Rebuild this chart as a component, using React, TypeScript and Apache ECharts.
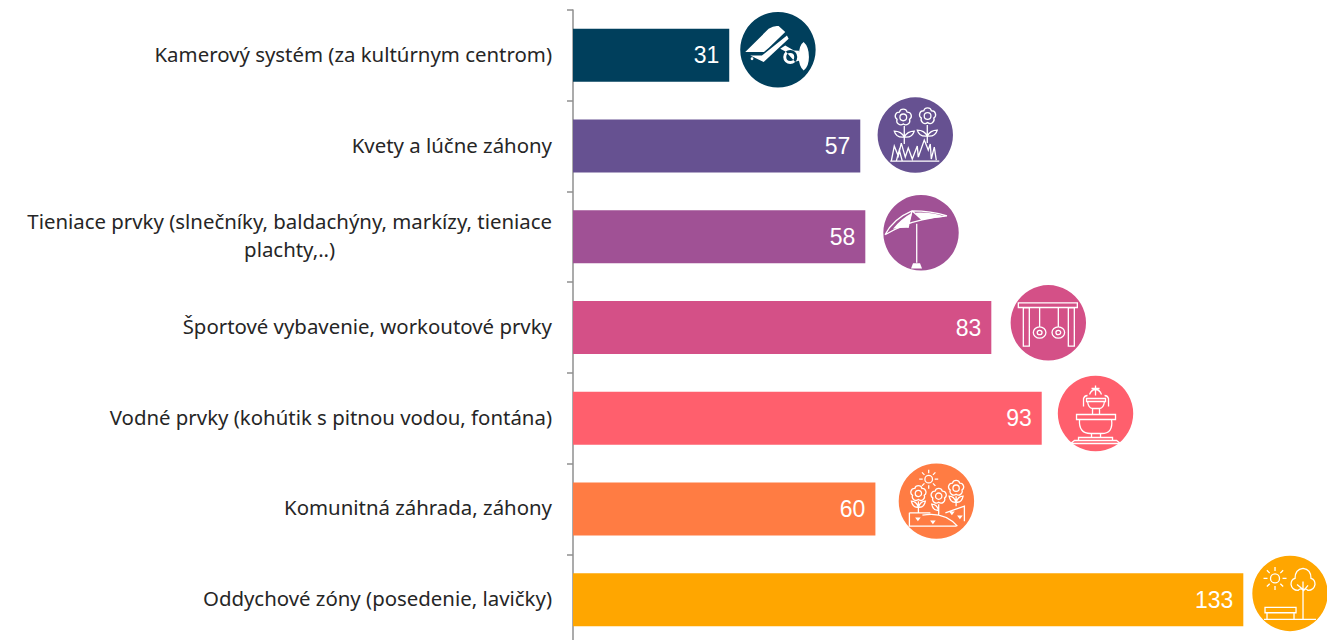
import React, { useEffect, useRef } from "react";
import * as echarts from "echarts";

const categories = [
  "Kamerový systém (za kultúrnym centrom)",
  "Kvety a lúčne záhony",
  "Tieniace prvky (slnečníky, baldachýny, markízy, tieniace\nplachty,..)",
  "Športové vybavenie, workoutové prvky",
  "Vodné prvky (kohútik s pitnou vodou, fontána)",
  "Komunitná záhrada, záhony",
  "Oddychové zóny (posedenie, lavičky)",
];
const values = [31, 57, 58, 83, 93, 60, 133];
const colors = ["#003F5C", "#665191", "#A05195", "#D45087", "#FF5F6D", "#FF7C43", "#FFA600"];
const iconDx = [48.7, 55, 55.7, 57, 53.8, 61, 46.7];
const iconDy = [-5.6, -11, -4, -4.7, -4.7, -7.8, -6.2];
const FONT = "Noto Sans";

const circ = (x: number, y: number, r: number) =>
  `M${x - r} ${y}A${r} ${r} 0 1 0 ${x + r} ${y}A${r} ${r} 0 1 0 ${x - r} ${y}Z `;
const ell = (x: number, y: number, rx: number, ry: number) =>
  `M${x - rx} ${y}A${rx} ${ry} 0 1 0 ${x + rx} ${y}A${rx} ${ry} 0 1 0 ${x - rx} ${y}Z `;
const rct = (x0: number, y0: number, x1: number, y1: number) =>
  `M${x0} ${y0}L${x1} ${y0}L${x1} ${y1}L${x0} ${y1}Z `;
const flower = (x: number, y: number, r: number) => {
  let d = circ(x, y, r * 0.42);
  const n = 5;
  const pts: number[][] = [];
  for (let i = 0; i < n; i++) {
    const a = -Math.PI / 2 + (i * 2 * Math.PI) / n;
    pts.push([x + r * Math.cos(a + Math.PI / n) * 0.82, y + r * Math.sin(a + Math.PI / n) * 0.82]);
  }
  d += `M${pts[n - 1][0]} ${pts[n - 1][1]}`;
  pts.forEach((p) => {
    d += `A${r * 0.5} ${r * 0.5} 0 0 1 ${p[0]} ${p[1]}`;
  });
  return d + "Z ";
};
const sun = (x: number, y: number, r: number, ray0: number, ray1: number) => {
  let d = circ(x, y, r);
  for (let i = 0; i < 8; i++) {
    const a = (i * Math.PI) / 4;
    d += `M${x + ray0 * Math.cos(a)} ${y + ray0 * Math.sin(a)}L${x + ray1 * Math.cos(a)} ${y + ray1 * Math.sin(a)} `;
  }
  return d;
};
const leaf = (x: number, y: number, dir: number) =>
  `M${x} ${y}Q${x + dir * 3} ${y - 6} ${x + dir * 10} ${y - 6}Q${x + dir * 8} ${y + 1} ${x} ${y} `;

const iconFill = [
  "M-32.7 2.3L-9.3 -21Q-4 -24.5 0.7 -23.7L7.3 -17.7L-9 -2L-14 2.3Z " +
    "M-27.7 5.7L-16 5.7L9 -14.3L10.7 -11L-14.3 12.3Z " +
    "M-27.3 9A1.4 1.4 0 1 0 -24.5 9A1.4 1.4 0 1 0 -27.3 9Z " +
    "M2.3 -1L7.3 -4.3L16 0.7L21 1L21 11L17 12L8 2Z " +
    "M5.3 7.3A7 7 0 1 0 19.3 7.3A7 7 0 1 0 5.3 7.3Z M8.3 7.3A4 4 0 1 1 16.3 7.3A4 4 0 1 1 8.3 7.3Z " +
    "M20.7 7.3Q21 -5 25.7 -7.7Q31 -3 31 7.3Q31 17 25.7 20.7Q21 17 20.7 7.3Z",
  "",
  "M-28 -4Q-20 -14 -9 -20L-13 -5Q-21 -5 -28 -4Z M-6 -20Q10 -21 24 -16Q12 -15 1 -13Z M-10 35.7L-8 30.5L-1 30.5L1 35.7Z",
  "",
  "",
  "",
  "",
];
const iconStroke = [
  "",
  flower(-12, -17.7, 8) + flower(12.3, -19, 8) +
    "M-11 -9L-11 9 M12 -10L12 8 " + leaf(-11, 2, -1) + leaf(-11, 2, 1) + leaf(12, 1, -1) + leaf(12, 1, 1) +
    "M-25 26L24 26 M-24 26L-21 11L-17 21L-14 8L-10 22L-7 13L-3 24L2 11L3 22L9 5L13 15L15 9L16 24L19 12L21 25 M-19 26L-16 15L-13 26",
  "M-36 2Q-28 -14 -9 -22Q10 -22 26 -17 M-36 2Q-18 -9 1 -13Q14 -16 26 -17 M-9 -22L1 -13 M-9 -22L-13 -5 M-4.3 -9L-4.3 30",
  rct(-30, -20, 29, -15.3) + rct(-25, -15, -19, 23.3) + rct(20, -15, 26, 23.3) +
    "M-8.7 -15L-8.7 4 M10 -15L10 4 " + ell(-8.7, 9.7, 6.3, 5.7) + ell(-8.7, 9.7, 2.4, 2.2) + ell(10, 9.7, 6.3, 5.7) + ell(10, 9.7, 2.4, 2.2),
  "M0 -28L0 -18 M-4 -25L4 -25 M-6 -19Q-4 -24 0 -24Q4 -24 6 -19 M-12 -7L-12 -15Q-11 -18 -8 -18 M13 -7L13 -15Q12 -18 9 -18 " +
    rct(-9, -15, 10, -12) + "M-8 -12Q-7 -5 -3 -5L4 -5Q8 -5 9 -12 M-3 -5L-3 1 M4 -5L4 1 " +
    rct(-19, 1, 20, 6) + "M-16 6Q-17 20 -5 20L6 20Q18 20 16 6 M-4 20L-4 24 M5 20L5 24 " + rct(-17, 24, 17, 27) + "M-25 30L-21 27L21 27L25 30L-25 30",
  sun(-7.7, -22, 3.8, 6, 9.5) + flower(-18, -7.7, 7.5) + flower(2.3, -5, 7.5) + flower(19.7, -13, 7.5) +
    "M-18 0L-18 11 M2.3 3L2.3 14 M19.7 -5L19.7 5 " + leaf(-18, 6, -0.7) + leaf(-18, 6, 0.7) + leaf(2.3, 9, -0.7) + leaf(19.7, 1, -0.7) + leaf(19.7, 1, 0.7) +
    "M-27 11.7L-27 25L20 25 M-27 11.7L-6 11.7 M9 11.7L28 5L28 20 M-14 14Q8 10 21 25 M-20 17L-17 17L-18.5 19Z M-5 20L-2 20L-3.5 22Z M14 11L17 11L15.5 13Z M22 15L25 15L23.5 17Z",
  sun(-15, -15, 4.5, 7.5, 11.5) +
    "M13 26L13 -12 M13 -4L7 -9 M13 -2L18 -8 " +
    "M8 -3Q2 -3 1 -9Q1 -14 5 -15Q5 -24 13 -25Q21 -24 21 -15Q25 -14 25 -9Q24 -3 18 -3Q15 -6 13 -3Q11 -6 8 -3Z " +
    rct(-25, 14, 6, 19.3) + "M-23 19.3L-23 26 M4 19.3L4 26 M-26 26L26 26",
];

export default function App() {
  const ref = useRef<HTMLDivElement>(null);
  useEffect(() => {
    document.body.style.margin = "0";
    const chart = echarts.init(ref.current!, null, { renderer: "svg" });
    chart.setOption({
      animation: false,
      backgroundColor: "#fff",
      grid: { left: 573, top: 10, width: 756, height: 635 },
      xAxis: { type: "value", min: 0, max: 150, show: false },
      yAxis: {
        type: "category",
        inverse: true,
        data: categories,
        axisLine: { show: true, lineStyle: { color: "#8f8f8f", width: 1.5 } },
        axisTick: { show: true, length: 6, lineStyle: { color: "#8f8f8f", width: 1.5 } },
        axisLabel: {
          margin: 21,
          color: "#262626",
          fontFamily: FONT,
          fontSize: 20.4,
          lineHeight: 28,
          align: "right",
          padding: [0, 0, 3, 0],
          formatter: (v: string) => v.split("\n").map((s) => `{c|${s}}`).join("\n"),
          rich: { c: { align: "center", color: "#262626", fontFamily: FONT, fontSize: 20.4, lineHeight: 28 } },
        },
      },
      series: [
        {
          type: "bar",
          barWidth: 53,
          data: values.map((v, i) => ({ value: v, itemStyle: { color: colors[i] } })),
          label: {
            show: true,
            position: "insideRight",
            distance: 10,
            color: "#fff",
            fontFamily: "Liberation Sans",
            fontSize: 23,
          },
        },
        {
          type: "custom",
          silent: true,
          clip: false,
          data: values.map((v, i) => [v, i]),
          encode: { x: 0, y: 1 },
          renderItem: (_p: any, api: any) => {
            const i = api.value(1);
            const pt = api.coord([api.value(0), i]);
            return {
              type: "group",
              x: pt[0] + iconDx[i],
              y: pt[1] + iconDy[i],
              children: [
                { type: "circle", shape: { cx: 0, cy: 0, r: 37.7 }, style: { fill: colors[i] } },
                { type: "path", shape: { pathData: iconFill[i] || "M0 0" }, style: { fill: "#fff", stroke: "none" } },
                { type: "path", shape: { pathData: iconStroke[i] || "M0 0" }, style: { fill: "none", stroke: "#fff", lineWidth: 1.3 } },
              ],
            };
          },
        },
      ],
    });
    return () => chart.dispose();
  }, []);
  return (
    <div style={{ position: "absolute", left: 0, top: 0, width: 1327, height: 640, overflow: "hidden" }}>
      <div ref={ref} style={{ width: 1400, height: 700 }} />
    </div>
  );
}
